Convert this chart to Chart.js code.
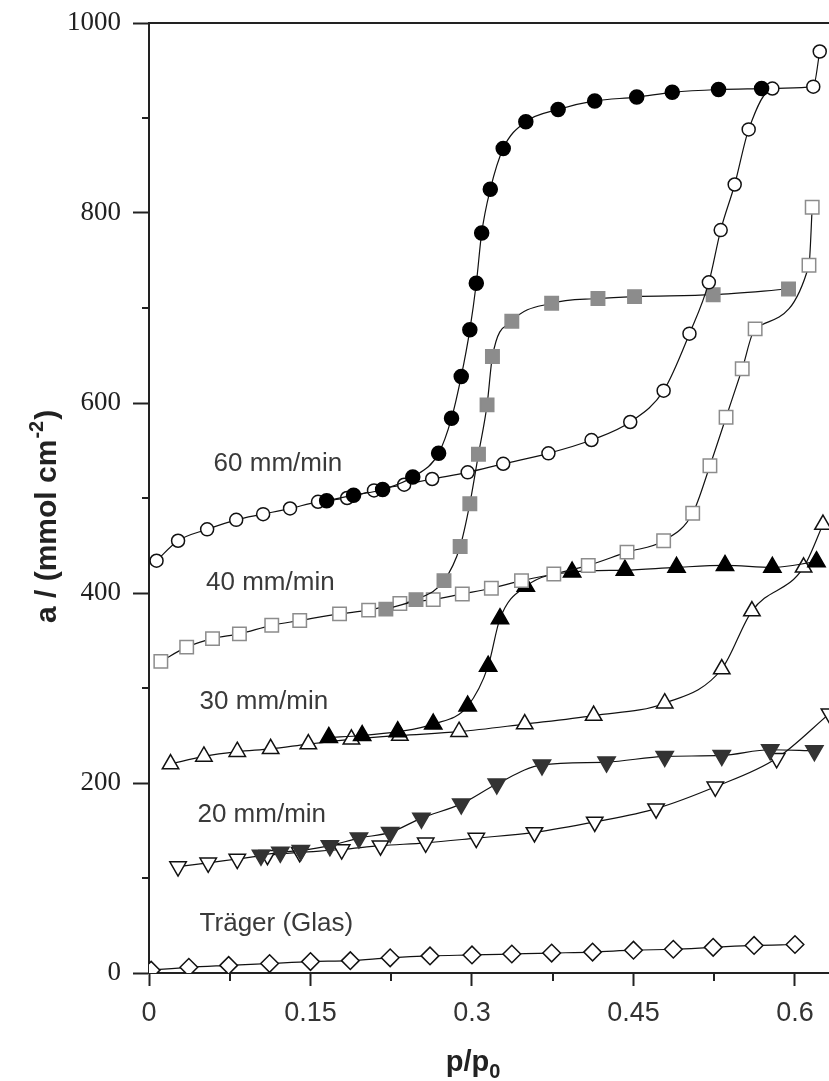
<!DOCTYPE html>
<html>
<head>
<meta charset="utf-8">
<script src="https://cdn.jsdelivr.net/npm/chart.js@4.4.1/dist/chart.umd.min.js"></script>
<style>
  html, body { margin: 0; padding: 0; background: #fff; }
  #wrap { width: 829px; height: 1081px; }
</style>
</head>
<body>
<div id="wrap"><canvas id="chart" width="829" height="1081"></canvas></div>
<script>
// isotherms: p/p0 and a (mmol cm-2)
const p60Ads = [0.007, 0.027, 0.054, 0.081, 0.106, 0.131, 0.157, 0.184, 0.209, 0.237, 0.263, 0.296, 0.329, 0.371, 0.411, 0.447, 0.478, 0.502, 0.520, 0.531, 0.544, 0.557, 0.579, 0.617, 0.623];
const a60Ads = [434, 455, 467, 477, 483, 489, 496, 500, 508, 514, 520, 527, 536, 547, 561, 580, 613, 673, 727, 782, 830, 888, 931, 933, 970];
const p60Des = [0.165, 0.190, 0.217, 0.245, 0.269, 0.281, 0.290, 0.298, 0.304, 0.309, 0.317, 0.329, 0.350, 0.380, 0.414, 0.453, 0.486, 0.529, 0.569];
const a60Des = [497, 503, 509, 522, 547, 584, 628, 677, 726, 779, 825, 868, 896, 909, 918, 922, 927, 930, 931];

const p40Ads = [0.011, 0.035, 0.059, 0.084, 0.114, 0.140, 0.177, 0.204, 0.233, 0.264, 0.291, 0.318, 0.346, 0.376, 0.408, 0.444, 0.478, 0.505, 0.521, 0.536, 0.551, 0.563, 0.613, 0.616];
const a40Ads = [328, 343, 352, 357, 366, 371, 378, 382, 389, 393, 399, 405, 413, 420, 429, 443, 455, 484, 534, 585, 636, 678, 745, 806];
const p40Des = [0.220, 0.248, 0.274, 0.289, 0.298, 0.306, 0.314, 0.319, 0.337, 0.374, 0.417, 0.451, 0.524, 0.594];
const a40Des = [383, 393, 413, 449, 494, 546, 598, 649, 686, 705, 710, 712, 714, 720];

const p30Ads = [0.020, 0.051, 0.082, 0.113, 0.148, 0.188, 0.233, 0.288, 0.349, 0.413, 0.479, 0.532, 0.560, 0.608, 0.626];
const a30Ads = [220, 228, 233, 236, 241, 246, 250, 254, 262, 271, 284, 320, 381, 427, 472];
const p30Des = [0.167, 0.198, 0.231, 0.264, 0.296, 0.315, 0.326, 0.350, 0.393, 0.442, 0.490, 0.535, 0.579, 0.620];
const a30Des = [248, 250, 254, 262, 281, 323, 373, 407, 422, 424, 427, 429, 427, 433];

const p20Ads = [0.027, 0.055, 0.082, 0.110, 0.140, 0.179, 0.215, 0.257, 0.304, 0.358, 0.414, 0.471, 0.526, 0.583, 0.632];
const a20Ads = [112, 116, 120, 124, 127, 130, 134, 137, 142, 148, 159, 173, 196, 226, 273];
const p20Des = [0.104, 0.122, 0.141, 0.168, 0.195, 0.224, 0.253, 0.290, 0.323, 0.365, 0.425, 0.479, 0.532, 0.577, 0.618];
const a20Des = [124, 127, 129, 134, 142, 148, 163, 178, 199, 219, 222, 228, 229, 235, 234];

const pGlas = [0.002, 0.037, 0.074, 0.112, 0.150, 0.187, 0.224, 0.261, 0.300, 0.337, 0.374, 0.412, 0.450, 0.487, 0.524, 0.562, 0.600];
const aGlas = [3, 6, 8, 10, 12, 13, 16, 18, 19, 20, 21, 22, 24, 25, 27, 29, 30];

const curveLabels = ['60 mm/min', '40 mm/min', '30 mm/min', '20 mm/min', 'Träger (Glas)'];

const xMajorTicks = [0, 0.15, 0.3, 0.45, 0.6];
const xTickLabels = ['0', '0.15', '0.3', '0.45', '0.6'];
const xMinorTicks = [0.075, 0.225, 0.375, 0.525];
const yMajorTicks = [0, 200, 400, 600, 800, 1000];
const yTickLabels = ['0', '200', '400', '600', '800', '1000'];
const yMinorTicks = [100, 300, 500, 700, 900];

const ink = '#111';
const grey = '#8c8c8c';

function pts(xs, ys) {
    return xs.map((x, i) => ({x: x, y: ys[i]}));
}

function series(xs, ys, style, fill, edge, radius, extra) {
    return Object.assign({
        data: pts(xs, ys),
        showLine: true,
        borderColor: ink,
        borderWidth: 1.2,
        cubicInterpolationMode: 'monotone',
        pointStyle: style,
        pointRadius: radius,
        pointBackgroundColor: fill,
        pointBorderColor: edge,
        pointBorderWidth: 1.5
    }, extra || {});
}

// the figure is cut at the right edge, so the plot runs to the canvas border
const stretchRight = {
    id: 'stretchRight',
    afterLayout(chart) {
        const area = chart.chartArea;
        const x = chart.scales.x;
        area.right = chart.width;
        area.width = area.right - area.left;
        x.right = chart.width;
        x.width = x.right - x.left;
        x.configure();
    }
};

// where the curve names sit, in axis units
const labelSpots = [[0.060, 536], [0.053, 411], [0.047, 285], [0.045, 167], [0.047, 52]];

const decorations = {
    id: 'decorations',
    afterDraw(chart) {
        const {ctx, chartArea, scales} = chart;
        const x = scales.x, y = scales.y;
        ctx.save();
        ctx.strokeStyle = '#222';
        ctx.lineWidth = 2;
        ctx.beginPath();
        ctx.moveTo(chartArea.left, chartArea.top);
        ctx.lineTo(chartArea.right, chartArea.top);
        yMinorTicks.forEach(v => {
            const py = Math.round(y.getPixelForValue(v));
            ctx.moveTo(chartArea.left - 7, py);
            ctx.lineTo(chartArea.left, py);
        });
        xMinorTicks.forEach(v => {
            const px = Math.round(x.getPixelForValue(v));
            ctx.moveTo(px, chartArea.bottom);
            ctx.lineTo(px, chartArea.bottom + 8);
        });
        ctx.stroke();

        ctx.fillStyle = '#3a3a3a';
        ctx.font = '26px "Liberation Sans"';
        ctx.textAlign = 'left';
        ctx.textBaseline = 'middle';
        curveLabels.forEach((t, i) => {
            ctx.fillText(t, x.getPixelForValue(labelSpots[i][0]), y.getPixelForValue(labelSpots[i][1]));
        });

        // x title p/p0
        ctx.fillStyle = '#222';
        ctx.textBaseline = 'alphabetic';
        ctx.font = 'bold 29px "Liberation Sans"';
        const mid = x.getPixelForValue(0.3);
        const w1 = ctx.measureText('p/p').width;
        ctx.font = 'bold 20px "Liberation Sans"';
        const w2 = ctx.measureText('0').width;
        const sx = mid - (w1 + w2) / 2 + 1;
        ctx.font = 'bold 29px "Liberation Sans"';
        ctx.fillText('p/p', sx, 1071);
        ctx.font = 'bold 20px "Liberation Sans"';
        ctx.fillText('0', sx + w1, 1078);

        // y title a / (mmol cm-2)
        ctx.translate(56, 623);
        ctx.rotate(-Math.PI / 2);
        ctx.font = 'bold 30px "Liberation Sans"';
        const part1 = 'a / (mmol cm';
        ctx.fillText(part1, 0, 0);
        let off = ctx.measureText(part1).width;
        ctx.font = 'bold 20px "Liberation Sans"';
        ctx.fillText('-2', off + 1, -13);
        off += ctx.measureText('-2').width + 2;
        ctx.font = 'bold 30px "Liberation Sans"';
        ctx.fillText(')', off, 0);
        ctx.restore();
    }
};

Chart.defaults.font.family = '"Liberation Sans", Arial, sans-serif';

new Chart(document.getElementById('chart'), {
    type: 'scatter',
    data: {
        datasets: [
            series(p60Des, a60Des, 'circle', '#000', '#000', 7, {order: 1}),
            series(p60Ads, a60Ads, 'circle', '#fff', ink, 6.5, {order: 2}),
            series(p40Des, a40Des, 'rect', grey, grey, 9.5, {order: 3}),
            series(p40Ads, a40Ads, 'rect', '#fff', grey, 9.5, {order: 4}),
            series(p30Des, a30Des, 'triangle', '#000', '#000', 10, {order: 5}),
            series(p30Ads, a30Ads, 'triangle', '#fff', ink, 9.5, {order: 6}),
            series(p20Des, a20Des, 'triangle', '#333', '#333', 10, {order: 7, pointRotation: 180}),
            series(p20Ads, a20Ads, 'triangle', '#fff', ink, 9.5, {order: 8, pointRotation: 180}),
            series(pGlas, aGlas, 'rectRot', '#fff', ink, 8.8, {order: 9})
        ]
    },
    options: {
        responsive: false,
        animation: false,
        events: [],
        layout: {padding: {top: 23, left: 0, right: 0, bottom: 0}},
        plugins: {legend: {display: false}, tooltip: {enabled: false}},
        scales: {
            x: {
                type: 'linear',
                min: 0,
                max: 0.6316,
                afterBuildTicks: (scale) => { scale.ticks = xMajorTicks.map(v => ({value: v})); },
                afterFit: (scale) => { scale.height = 108; scale.paddingLeft = 0; scale.paddingRight = 0; },
                border: {display: true, color: '#222', width: 2},
                grid: {drawOnChartArea: false, drawTicks: true, tickLength: 13, tickColor: '#222', tickWidth: 2},
                ticks: {
                    callback: (v, i) => xTickLabels[i],
                    color: '#333',
                    padding: 11,
                    maxRotation: 0,
                    font: {size: 27, family: '"Liberation Sans"'}
                }
            },
            y: {
                type: 'linear',
                min: 0,
                max: 1000,
                afterBuildTicks: (scale) => { scale.ticks = yMajorTicks.map(v => ({value: v})); },
                afterFit: (scale) => { scale.width = 149; scale.paddingTop = 0; scale.paddingBottom = 0; },
                border: {display: true, color: '#222', width: 2},
                grid: {drawOnChartArea: false, drawTicks: true, tickLength: 16, tickColor: '#222', tickWidth: 2},
                ticks: {
                    callback: (v, i) => yTickLabels[i],
                    color: '#222',
                    padding: 12,
                    font: {size: 27, family: '"Liberation Serif"'}
                }
            }
        }
    },
    plugins: [stretchRight, decorations]
});
</script>
</body>
</html>
